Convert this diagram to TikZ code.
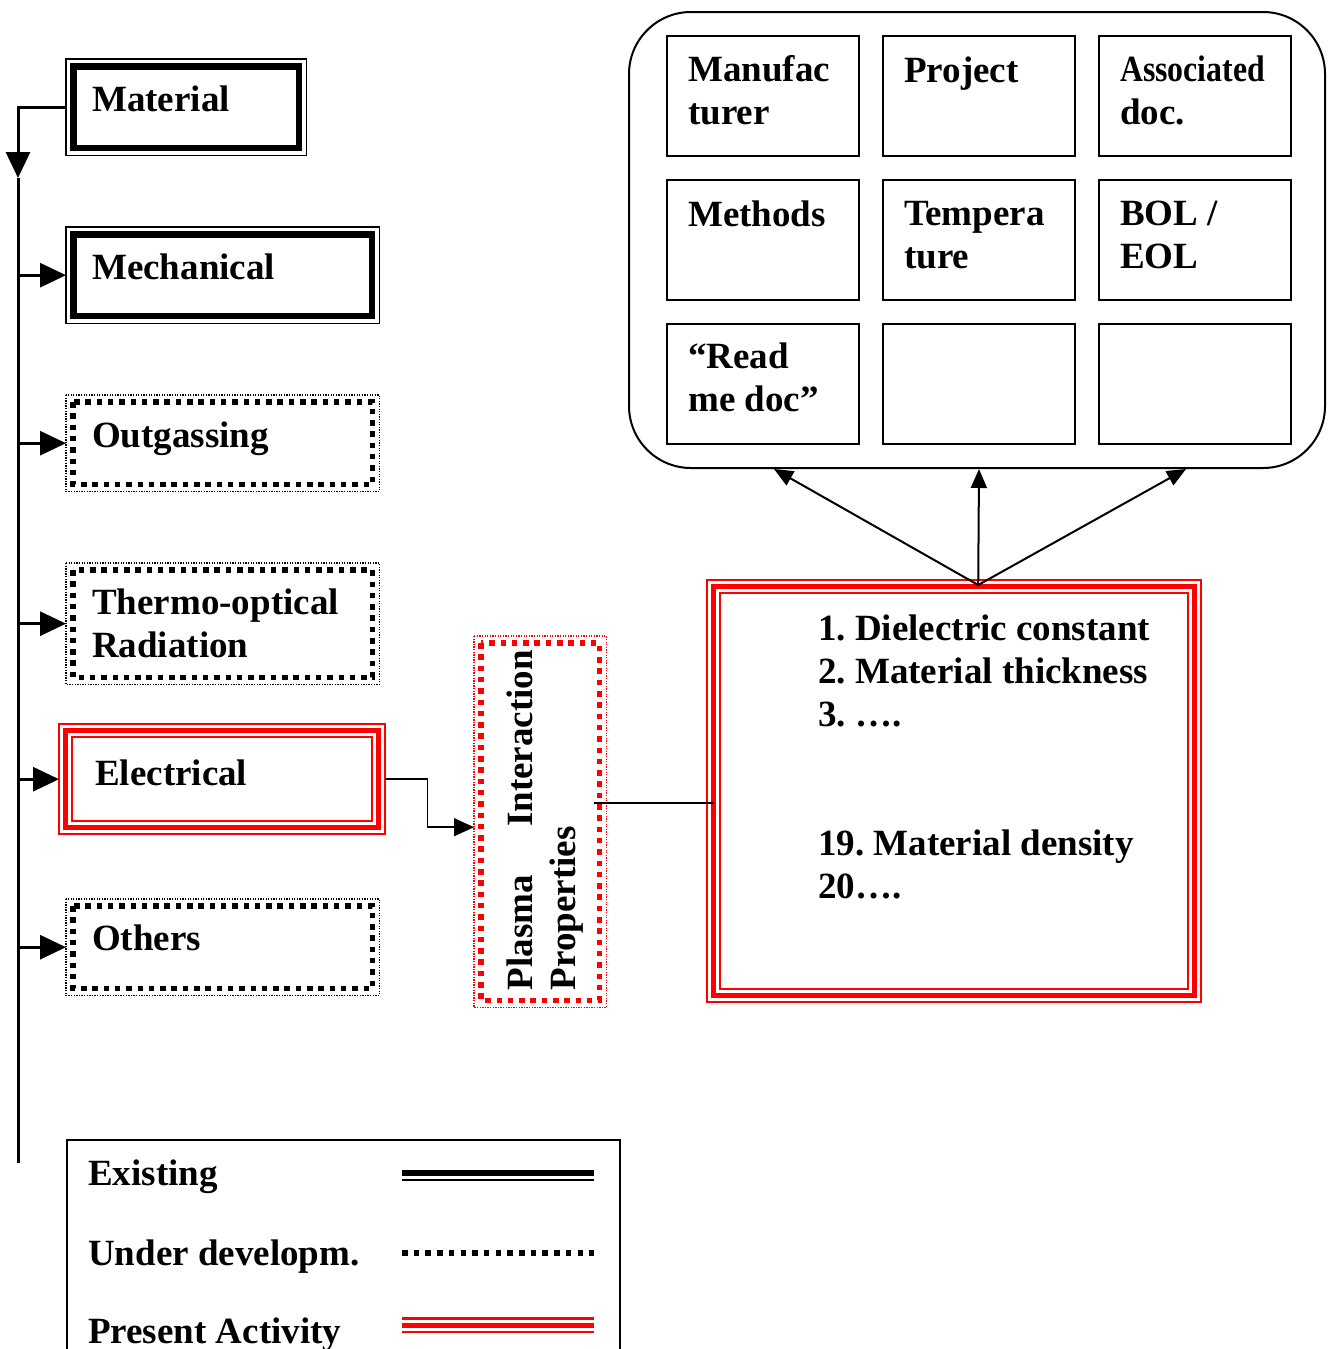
\documentclass[tikz,border=0pt]{standalone}
\usepackage{fontspec}
\setmainfont{Liberation Serif}
\usepackage{graphicx}
\usetikzlibrary{arrows.meta,calc}
\definecolor{pred}{RGB}{255,0,0}
\newcommand\ExistFrame[1]{%
  \draw[line width=1.5pt] (#1.north west) rectangle (#1.south east);
  \draw[line width=6.5pt] ([shift={(7.5pt,-7.5pt)}]#1.north west) rectangle ([shift={(-7.5pt,7.5pt)}]#1.south east);}
\newcommand\DevFrame[2]{%
  \draw[#2,line width=1.3pt,dash pattern=on 1.3pt off 1.3pt] (#1.north west) rectangle (#1.south east);
  \draw[#2,line width=5.5pt,dash pattern=on 5.5pt off 5.8pt] ([shift={(7pt,-7pt)}]#1.north west) rectangle ([shift={(-7pt,7pt)}]#1.south east);}
\newcommand\PresFrame[1]{%
  \draw[pred,line width=2pt] (#1.north west) rectangle (#1.south east);
  \draw[pred,line width=5pt] ([shift={(6.5pt,-6.5pt)}]#1.north west) rectangle ([shift={(-6.5pt,6.5pt)}]#1.south east);
  \draw[pred,line width=2pt] ([shift={(13pt,-13pt)}]#1.north west) rectangle ([shift={(-13pt,13pt)}]#1.south east);}
\begin{document}
\frenchspacing
\begin{tikzpicture}[x=1pt,y=-1pt,
  font=\fontsize{37}{43}\selectfont\bfseries\frenchspacing,
  frame/.style={rectangle,inner sep=0pt,anchor=north west,draw=none},
  txt/.style={anchor=base west,inner sep=0pt,align=left},
  cell/.style={rectangle,draw,line width=2pt,inner sep=0pt,anchor=north west,minimum width=192pt,minimum height=120pt},
  bigarrow/.style={line width=3pt,-{Triangle[length=26pt,width=24pt]}},
  smallarrow/.style={line width=2pt,-{Triangle[length=19pt,width=16pt]}}]
\useasboundingbox (0,0) rectangle (1329,1349);
\clip (0,0) rectangle (1329,1349);

% left column boxes
\node[frame,minimum width=240pt,minimum height=96pt] (mat) at (66,59) {};
\node[frame,minimum width=313pt,minimum height=96pt] (mech) at (66,227) {};
\node[frame,minimum width=313pt,minimum height=96pt] (outg) at (66,395) {};
\node[frame,minimum width=313pt,minimum height=121pt] (thermo) at (66,563) {};
\node[frame,minimum width=326pt,minimum height=110pt] (elec) at (59,724) {};
\node[frame,minimum width=313pt,minimum height=96pt] (others) at (66,899) {};
\ExistFrame{mat}
\ExistFrame{mech}
\DevFrame{outg}{black}
\DevFrame{thermo}{black}
\PresFrame{elec}
\DevFrame{others}{black}
\node[txt] (matT) at (92,111) {Material};
\node[txt] (mechT) at (92,279) {Mechanical};
\node[txt] (outgT) at (92,447) {Outgassing};
\node[txt] (thermoT) at (92,657) {Thermo-optical\\Radiation};
\node[txt] (elecT) at (95,785) {Electrical};
\node[txt] (othersT) at (92,950) {Others};

% trunk
\coordinate (trunkEnd) at (18,1163);
\coordinate (corner) at (trunkEnd |- mat.west);
\coordinate (trunkTip) at (18,178);
\draw[bigarrow] (mat.west) -- (corner) -- (trunkTip);
\draw[line width=3pt] (trunkTip) -- (trunkEnd);
\draw[bigarrow] (trunkEnd |- mech.west) -- (mech.west);
\draw[bigarrow] (trunkEnd |- outg.west) -- (outg.west);
\draw[bigarrow] (trunkEnd |- thermo.west) -- (thermo.west);
\draw[bigarrow] (trunkEnd |- elec.west) -- (elec.west);
\draw[bigarrow] (trunkEnd |- others.west) -- (others.west);

% plasma box
\node[frame,minimum width=132pt,minimum height=371pt] (plasma) at (474,636) {};
\DevFrame{plasma}{pred}
\node[rotate=90,text width=340pt,align=left,inner sep=0pt] (plasmaT) at (545,820)
  {Plasma\hskip0pt plus 1fill\relax Interaction\\Properties};
\draw[line width=1.5pt,-{Triangle[length=20pt,width=18pt]}] (elec.east) -- ++(42,0) |- ([yshift=-5.5pt]plasma.west);

% red property box
\node[frame,minimum width=494pt,minimum height=422pt] (props) at (707,580) {};
\PresFrame{props}
\node[txt] (propsA) at (818,726) {1. Dielectric constant\\2. Material thickness\\3. ….};
\node[txt] (propsB) at (818,898) {19. Material density\\20….};
\coordinate (pA) at ([xshift=-12pt,yshift=18.5pt]plasma.east);
\draw[line width=1.5pt] (pA) -- ([xshift=7pt]pA -| props.west);

% rounded container and cells
\node[rectangle,draw,line width=2pt,rounded corners=62pt,anchor=north west,inner sep=0pt,
  minimum width=696pt,minimum height=456pt] (docs) at (628,11) {};
\node[cell] (c11) at (666,35) {};
\node[cell] (c12) at (882,35) {};
\node[cell] (c13) at (1098,35) {};
\node[cell] (c21) at (666,179) {};
\node[cell] (c22) at (882,179) {};
\node[cell] (c23) at (1098,179) {};
\node[cell] (c31) at (666,323) {};
\node[cell] (c32) at (882,323) {};
\node[cell] (c33) at (1098,323) {};
\node[txt] (t11) at (688,124) {Manufac\\turer};
\node[txt] (t12) at (904,82) {Project};
\node[txt] (t13) at (1120,124) {\scalebox{0.86}[1]{Associated}\\doc.};
\node[txt] (t21) at (688,226) {Methods};
\node[txt] (t22) at (904,268) {Tempera\\ture};
\node[txt] (t23) at (1120,268) {BOL /\\EOL};
\node[txt] (t31) at (688,411) {“Read\\me doc”};

% arrows from props to docs
\coordinate (apex) at ([xshift=24pt,yshift=-5pt]props.north);
\draw[smallarrow] (apex) -- ([xshift=-203pt]docs.south);
\draw[smallarrow] (apex) -- ([xshift=2pt]docs.south);
\draw[smallarrow] (apex) -- ([xshift=209pt]docs.south);

% legend
\node[rectangle,draw,line width=2pt,anchor=north west,inner sep=0pt,minimum width=553pt,minimum height=260pt] (legend) at (66,1139) {};
\node[txt] (lgA) at (88,1185) {Existing};
\node[txt] (lgB) at (88,1265) {Under developm.};
\node[txt] (lgC) at (88,1343) {Present Activity};
\draw[line width=6pt] (402,1173) -- (594,1173);
\draw[line width=1.8pt] (402,1180) -- (594,1180);
\draw[line width=5.5pt,dash pattern=on 5.5pt off 6.2pt] (402,1253) -- (594,1253);
\draw[pred,line width=2.5pt] (402,1318.5) -- (594,1318.5);
\draw[pred,line width=5pt] (402,1325.2) -- (594,1325.2);
\draw[pred,line width=2.5pt] (402,1332) -- (594,1332);
\end{tikzpicture}
\end{document}
